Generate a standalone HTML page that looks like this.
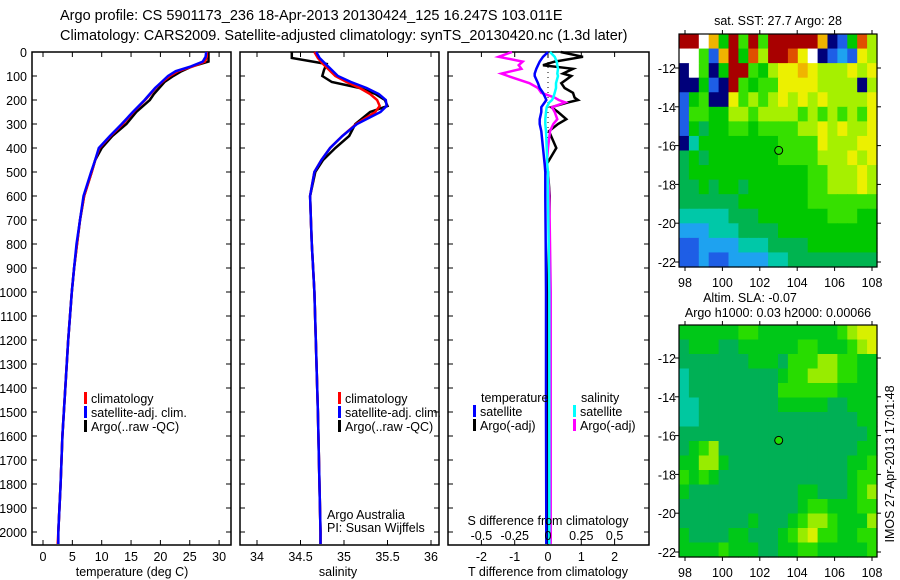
<!DOCTYPE html>
<html><head><meta charset="utf-8"><style>
body{margin:0;background:#fff;}
svg{display:block;font-family:"Liberation Sans",sans-serif;}
</style></head><body>
<svg id="c" width="900" height="580" viewBox="0 0 900 580">
<g id="titles" font-size="14.5" fill="#000">
<text x="60" y="20">Argo profile: CS 5901173_236 18-Apr-2013 20130424_125 16.247S 103.011E</text>
<text x="60" y="40">Climatology: CARS2009. Satellite-adjusted climatology: synTS_20130420.nc (1.3d later)</text>
</g>
</svg>
<script>
// ---- data ----
const depths=[0,20,40,60,80,100,125,150,175,200,250,300,350,400,450,500,600,700,800,900,1000,1200,1400,1600,1800,2000,2050];
const tClim=[27.9,27.9,27.6,25.5,23.0,21.6,20.3,19.2,18.3,17.4,15.4,13.6,11.5,9.6,8.9,8.3,7.0,6.3,5.8,5.3,4.9,4.3,3.8,3.3,3.0,2.6,2.5];
const tSat=[27.8,27.7,27.2,25.2,22.6,21.3,20.2,19.1,18.2,17.3,15.3,13.4,11.4,9.5,8.9,8.2,6.9,6.3,5.7,5.3,4.9,4.3,3.8,3.3,3.0,2.6,2.6];
const tArgo=[28.2,28.2,28.2,25.4,23.6,22.2,20.7,19.8,18.9,18.2,15.9,14.2,11.8,10.0,8.9,8.3,7.0,6.3,5.8,5.3,4.9,4.3,3.8,3.3,3.0,2.6,2.6];
const sDepths=[0,25,50,75,100,125,150,175,200,225,250,300,350,400,450,500,600,700,800,1000,1500,2000,2050];
const sClim=[34.66,34.70,34.76,34.83,34.90,35.03,35.18,35.30,35.38,35.41,35.36,35.14,34.98,34.84,34.74,34.66,34.61,34.62,34.63,34.66,34.70,34.73,34.73];
const sSat=[34.68,34.72,34.79,34.86,34.93,35.08,35.26,35.40,35.48,35.49,35.42,35.15,34.98,34.84,34.74,34.66,34.61,34.62,34.63,34.66,34.70,34.73,34.73];
const sArgo=[34.40,34.40,34.80,34.77,34.75,34.86,35.18,35.36,35.47,35.50,35.30,35.13,35.06,34.90,34.76,34.67,34.61,34.62,34.63,34.66,34.70,34.73,34.73];
const dDepths=[0,20,40,55,70,90,100,130,150,170,190,200,210,230,250,280,300,330,400,470,500,600,800,1000,1500,2000,2050];
const dTSat=[0,-0.15,-0.25,-0.3,-0.35,-0.4,-0.4,-0.3,-0.25,-0.15,-0.08,-0.05,-0.1,-0.2,-0.2,-0.25,-0.25,-0.2,-0.15,-0.1,-0.08,-0.08,-0.07,-0.06,-0.06,-0.05,-0.05];
const dTArgo=[0.38,1.05,0.2,-0.15,0.75,0.45,0.7,0.4,0.5,0.75,0.8,0.9,0.6,0.1,0.3,0.55,0.3,0.03,0.25,-0.05,0.0,0.05,0.02,0.0,0.0,0.0,0.0];
const dSSat=[0.015,0.05,0.065,0.07,0.075,0.07,0.075,0.06,0.06,0.05,0.04,0.03,0.01,-0.01,-0.015,-0.02,-0.02,-0.015,-0.01,-0.005,0,0,0.005,0.01,0.01,0.01,0.01];
const dSArgo=[-0.27,-0.37,-0.19,-0.22,-0.2,-0.35,-0.3,-0.14,-0.075,-0.05,0.05,0.08,0.13,0.03,0.05,0.07,0.04,0.015,0.0,-0.01,0.0,0.01,0.015,0.02,0.02,0.02,0.02];
const depthTicks=[0,100,200,300,400,500,600,700,800,900,1000,1100,1200,1300,1400,1500,1600,1700,1800,1900,2000];
const tempTicks=[0,5,10,15,20,25,30];
const salTicks=[34,34.5,35,35.5,36];
const dTTicks=[-2,-1,0,1,2];
const dSTicks=[-0.5,-0.25,0,0.25,0.5];
const sDiffLabels=["-0.5","-0.25","0","0.25","0.5"];
const lonTicks=[98,100,102,104,106,108];
const latTicks=[12,14,16,18,20,22];
const argoLon=103.011, argoLat=16.247;
const sstGrid=["BBW95B6B6BBBBB9015A7","WW619B5A7BBA8W012187","0W605BB6578898777878","00510B65668888777707","15600867678787877778","16655776777767676768","15455665666677878778","03555555556666877788","45455555556666777878","45555555555556677787","44545545555556677787","44444455555556666666","33333444555555566655","22233344445555555555","11222233344445555555","11211222233444444444"];
const slaGrid=["55555566555555556788","45554455555566555678","44444445554666776655","34444444445667776655","34444444446666665555","33444444445555544555","33444444444444444455","44444444444444444445","45674444444444444455","55775444444444444556","65654444444444444566","54444444444455444567","44444444444456655566","44444445444567765557","54444554445678665566","55556555445566555556"];
const palette={"0":"#00007a","1":"#1e5ee6","2":"#1ea2f0","3":"#00c8a8","4":"#00b450","5":"#00c800","6":"#36e000","7":"#a6f000","8":"#ecf000","9":"#f0b400","A":"#e05000","B":"#a80000","W":"#ffffff"};
const slaPal={"3":"#00c8a0","4":"#00b055","5":"#00c818","6":"#28dc00","7":"#98ec00","8":"#d8f000"};

// ---- helpers ----
const NS="http://www.w3.org/2000/svg";
const svg=document.getElementById('c');
function mk(tag,attrs,parent){const e=document.createElementNS(NS,tag);for(const k in attrs)e.setAttribute(k,attrs[k]);(parent||svg).appendChild(e);return e;}
function txt(x,y,s,attrs,parent){const e=mk('text',Object.assign({x:x,y:y,'font-size':12.5},attrs||{}),parent);e.textContent=s;return e;}
const yD=d=>52+0.24*d;
const TOP=52,BOT=545;
const xT=t=>43+5.87*t;
const xS=s=>257+87*(s-34);
const xDT=t=>548+33.3*t;
const xDS=s=>548+133.2*s;

function frame(x0,x1,name){
  const g=mk('g',{});
  
  
  mk('rect',{x:x0,y:TOP,width:x1-x0,height:BOT-TOP,fill:'none',stroke:'#000','stroke-width':1.5},g);
  depthTicks.forEach(d=>{mk('line',{x1:x0,x2:x0+5,y1:yD(d),y2:yD(d),stroke:'#000'},g);mk('line',{x1:x1-5,x2:x1,y1:yD(d),y2:yD(d),stroke:'#000'},g);});
  return g;
}
function line(xs,ds,fx,color,w,name){
  const pts=xs.map((v,i)=>fx(v).toFixed(1)+','+yD(ds[i]).toFixed(1)).join(' ');
  const p=mk('polyline',{points:pts,fill:'none',stroke:color,'stroke-width':w,'stroke-linejoin':'miter'});
  
  
}
function legend(x,y,color,label,name){
  const g=mk('g',{});
  
  
  mk('rect',{x:x,y:y-11,width:3,height:12,fill:color},g);
  txt(x+7,y,label,{},g);
}

// ---- panel 1 ----
frame(32,231,'temperature-panel');
depthTicks.forEach(d=>{const t=txt(27,yD(d)+5,String(d),{'text-anchor':'end'});});
tempTicks.forEach(v=>{mk('line',{x1:xT(v),x2:xT(v),y1:BOT,y2:BOT-5,stroke:'#000'});mk('line',{x1:xT(v),x2:xT(v),y1:TOP,y2:TOP+5,stroke:'#000'});const t=txt(xT(v),561,String(v),{'text-anchor':'middle'});});
line(tArgo,depths,xT,'#000',2.5,'temp-argo-line');
line(tClim,depths,xT,'#f00',2.5,'temp-climatology-line');
line(tSat,depths,xT,'#0000ff',2.5,'temp-satellite-line');
legend(84,403,'#f00','climatology','temp-legend-climatology');
legend(84,417,'#0000ff','satellite-adj. clim.','temp-legend-satellite');
legend(84,431,'#000','Argo(..raw -QC)','temp-legend-argo');
{const t=txt(132,576,'temperature (deg C)',{'text-anchor':'middle'});}

// ---- panel 2 ----
frame(240,439,'salinity-panel');
salTicks.forEach(v=>{mk('line',{x1:xS(v),x2:xS(v),y1:BOT,y2:BOT-5,stroke:'#000'});mk('line',{x1:xS(v),x2:xS(v),y1:TOP,y2:TOP+5,stroke:'#000'});const t=txt(xS(v),561,String(v),{'text-anchor':'middle'});});
line(sArgo,sDepths,xS,'#000',2.5,'salinity-argo-line');
line(sClim,sDepths,xS,'#f00',2.5,'salinity-climatology-line');
line(sSat,sDepths,xS,'#0000ff',2.5,'salinity-satellite-line');
legend(338,403,'#f00','climatology','sal-legend-climatology');
legend(338,417,'#0000ff','satellite-adj. clim.','sal-legend-satellite');
legend(338,431,'#000','Argo(..raw -QC)','sal-legend-argo');
{const t=txt(327,519,'Argo Australia');}
{const t=txt(327,532,'PI: Susan Wijffels');}
{const t=txt(338,576,'salinity',{'text-anchor':'middle'});}

// ---- panel 3 ----
frame(448,649,'difference-panel');
mk('line',{x1:548,x2:548,y1:TOP,y2:210,stroke:'#000','stroke-dasharray':'1,4'});
dTTicks.forEach(v=>{mk('line',{x1:xDT(v),x2:xDT(v),y1:BOT,y2:BOT-5,stroke:'#000'});mk('line',{x1:xDT(v),x2:xDT(v),y1:TOP,y2:TOP+5,stroke:'#000'});const t=txt(xDT(v),561,String(v),{'text-anchor':'middle'});});
line(dTArgo,dDepths,xDT,'#000',2.5,'tdiff-argo-line');
line(dSArgo,dDepths,xDS,'#ff00ff',2.5,'sdiff-argo-line');
line(dTSat,dDepths,xDT,'#0000ff',2.5,'tdiff-satellite-line');
line(dSSat,dDepths,xDS,'#00ffff',2.5,'sdiff-satellite-line');
dSTicks.forEach((v,i)=>{const t=txt(xDS(v),540,sDiffLabels[i],{'text-anchor':'middle'});});
{const t=txt(548,525,'S difference from climatology',{'text-anchor':'middle'});}
{const t=txt(548,576,'T difference from climatology',{'text-anchor':'middle'});}
{const t=txt(481,402,'temperature');}
{const t=txt(581,402,'salinity');}
legend(473,416,'#0000ff','satellite','tdiff-legend-satellite');
legend(473,430,'#000','Argo(-adj)','tdiff-legend-argo');
legend(573,416,'#00ffff','satellite','sdiff-legend-satellite');
legend(573,430,'#ff00ff','Argo(-adj)','sdiff-legend-argo');

// ---- maps ----
function drawMap(grid,pal,yTop,yBot,lat12y,name){
  const x0=679,x1=877;
  const xL=lon=>685+18.7*(lon-98);
  const yL=lat=>lat12y+19.4*(lat-12);
  const g=mk('g',{});
  
  
  const rows=grid.length,cols=grid[0].length;
  const cw=(x1-x0)/cols,ch=(yBot-yTop)/rows;
  grid.forEach((row,r)=>{for(let c=0;c<cols;c++){
    const cell=mk('rect',{x:(x0+c*cw).toFixed(2),y:(yTop+r*ch).toFixed(2),width:(cw+0.6).toFixed(2),height:(ch+0.6).toFixed(2),fill:pal[row[c]]||'#00c800'},g);
    
    
  }});
  mk('rect',{x:x0,y:yTop,width:x1-x0,height:yBot-yTop,fill:'none',stroke:'#000','stroke-width':1.2},g);
  lonTicks.forEach(l=>{mk('line',{x1:xL(l),x2:xL(l),y1:yBot,y2:yBot+4,stroke:'#000'},g);mk('line',{x1:xL(l),x2:xL(l),y1:yTop,y2:yTop-4,stroke:'#000'},g);const t=txt(xL(l),yBot+20,String(l),{'text-anchor':'middle'},g);});
  latTicks.forEach(l=>{mk('line',{x1:x0,x2:x0-4,y1:yL(l),y2:yL(l),stroke:'#000'},g);mk('line',{x1:x1,x2:x1+4,y1:yL(l),y2:yL(l),stroke:'#000'},g);const t=txt(676,yL(l)+5,'-'+l,{'text-anchor':'end'},g);});
  const m=mk('circle',{cx:xL(argoLon),cy:yL(argoLat),r:4,fill:'#22dd00',stroke:'#000','stroke-width':1},g);
  
  
}
drawMap(sstGrid,palette,34,267,68,'sst-map');
drawMap(slaGrid,slaPal,325,557,358,'sla-map');
{const t=txt(778,25,'sat. SST: 27.7 Argo: 28',{'text-anchor':'middle'});}
{const t=txt(750,302,'Altim. SLA: -0.07',{'text-anchor':'middle'});}
{const t=txt(778,317,'Argo h1000: 0.03 h2000: 0.00066',{'text-anchor':'middle'});}
{const t=txt(0,0,'IMOS 27-Apr-2013 17:01:48',{'text-anchor':'middle',transform:'translate(894,464) rotate(-90)'});}
</script>
</body></html>
